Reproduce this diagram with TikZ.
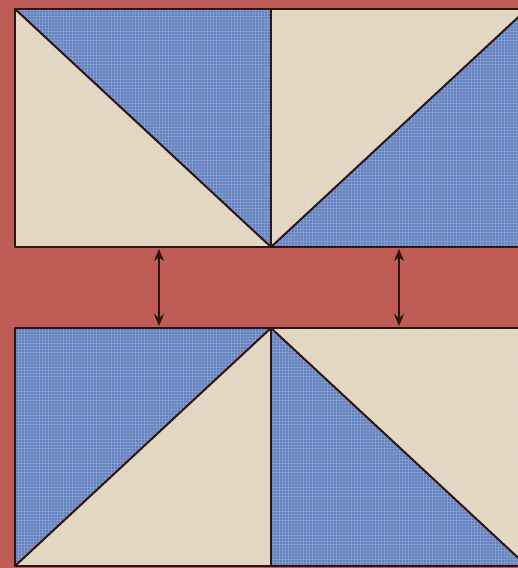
\documentclass[tikz,border=0pt]{standalone}
\usetikzlibrary{arrows.meta,patterns}
\definecolor{bgred}{HTML}{C05C56}
\definecolor{beige}{HTML}{E2D5BB}
\definecolor{quiltblue}{HTML}{5B80C8}
\definecolor{darkblue}{HTML}{34579E}
\definecolor{beigedark}{HTML}{CFC0A3}
\definecolor{edge}{HTML}{2E1414}
\tikzset{
  bluepatch/.style={fill=quiltblue},
  beigepatch/.style={fill=beige},
  bluetex/.style={pattern=grid, pattern color=darkblue!60},
  beigetex/.style={pattern=grid, pattern color=beigedark!60},
  seam/.style={draw=edge, line width=2pt, line join=round},
  gaparrow/.style={draw=edge, line width=2.4pt, {Stealth[length=12pt,width=10pt]}-{Stealth[length=12pt,width=10pt]}}
}
\begin{document}
\begin{tikzpicture}[x=1pt,y=-1pt]
\useasboundingbox (0,0) rectangle (518,568);
\clip (0,0) rectangle (518,568);
\fill[bgred] (0,0) rectangle (518,568);
% top-left block
\path[beigepatch] (15,9) -- (15,247) -- (271,247) -- cycle;
\path[beigetex] (15,9) -- (15,247) -- (271,247) -- cycle;
\path[bluepatch] (15,9) -- (271,9) -- (271,247) -- cycle;
\path[bluetex] (15,9) -- (271,9) -- (271,247) -- cycle;
% top-right block
\path[beigepatch] (271,9) -- (527,9) -- (271,247) -- cycle;
\path[beigetex] (271,9) -- (527,9) -- (271,247) -- cycle;
\path[bluepatch] (527,9) -- (527,247) -- (271,247) -- cycle;
\path[bluetex] (527,9) -- (527,247) -- (271,247) -- cycle;
% bottom-left block
\path[bluepatch] (15,328) -- (271,328) -- (15,566) -- cycle;
\path[bluetex] (15,328) -- (271,328) -- (15,566) -- cycle;
\path[beigepatch] (271,328) -- (271,566) -- (15,566) -- cycle;
\path[beigetex] (271,328) -- (271,566) -- (15,566) -- cycle;
% bottom-right block
\path[beigepatch] (271,328) -- (527,328) -- (527,566) -- cycle;
\path[beigetex] (271,328) -- (527,328) -- (527,566) -- cycle;
\path[bluepatch] (271,328) -- (271,566) -- (527,566) -- cycle;
\path[bluetex] (271,328) -- (271,566) -- (527,566) -- cycle;
% seams
\draw[seam] (15,9) rectangle (527,247);
\draw[seam] (271,9) -- (271,247);
\draw[seam] (15,9) -- (271,247) -- (527,9);
\draw[seam] (15,328) rectangle (527,566);
\draw[seam] (271,328) -- (271,566);
\draw[seam] (15,566) -- (271,328) -- (527,566);
% arrows
\coordinate (a1) at (159,249);
\coordinate (b1) at (159,326);
\coordinate (a2) at (399,249);
\coordinate (b2) at (399,326);
\draw[gaparrow] (a1) -- (b1);
\draw[gaparrow] (a2) -- (b2);
\end{tikzpicture}
\end{document}
